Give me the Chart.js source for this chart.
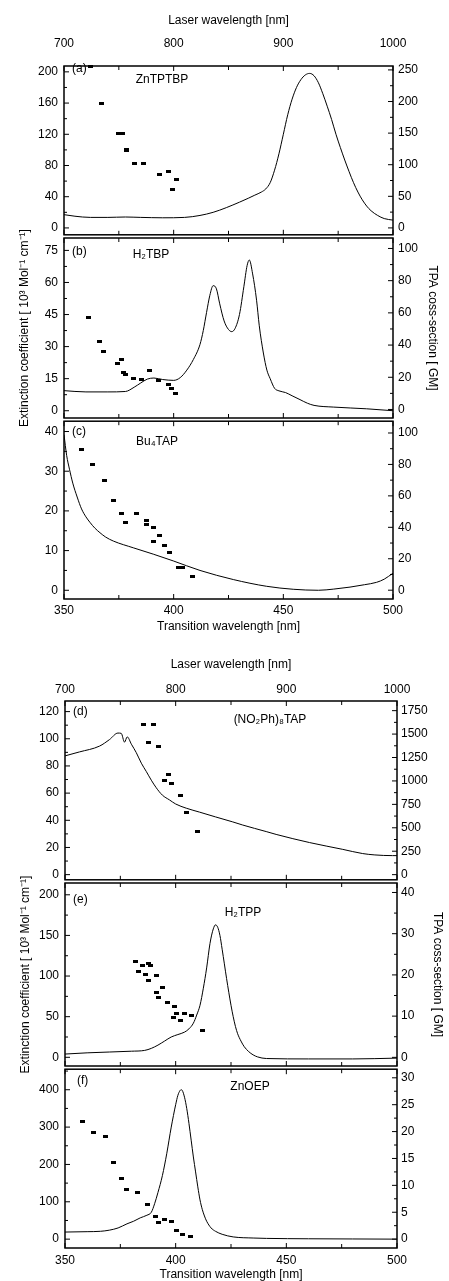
<!DOCTYPE html>
<html>
<head>
<meta charset="utf-8">
<script src="https://cdn.jsdelivr.net/npm/chart.js@4.4.1/dist/chart.umd.min.js"></script>
<style>
  html, body { margin: 0; padding: 0; background: #fff; }
  body { width: 449px; height: 1281px; position: relative; overflow: hidden; }
  canvas { position: absolute; left: 0; }
</style>
</head>
<body>
<canvas id="pa"></canvas>
<canvas id="pb"></canvas>
<canvas id="pc"></canvas>
<canvas id="pd"></canvas>
<canvas id="pe"></canvas>
<canvas id="pf"></canvas>
<script>
// shared axes
const xTicks = [350, 400, 450, 500];
const laserTicks = [700, 800, 900, 1000];

// (a) ZnTPTBP
const aLineNm  = [350, 355, 362, 370, 378, 385, 395, 405, 412, 418, 424, 430, 434, 437, 440, 442, 444, 446, 448, 450, 452, 454, 456, 458, 460, 462, 464, 466, 468, 470, 472, 474, 476, 478, 480, 482, 484, 486, 488, 490, 493, 496, 500];
const aLineExt = [17, 15, 13.5, 13.5, 14, 13.5, 13, 13.5, 16, 20, 26, 33, 38, 42, 46, 50, 58, 74, 95, 120, 145, 165, 180, 190, 196, 198, 195, 186, 172, 156, 139, 120, 103, 87, 72, 58, 46, 36, 28, 22, 16, 12, 10];
const aDotNm   = [362, 367.2, 374.8, 376.8, 378.3, 378.6, 382.2, 386.2, 393.5, 397.7, 399.4, 401.4];
const aDotGm   = [255, 197, 149, 149, 124, 122, 102, 102, 85, 90, 60, 77];
const aLeftTicks  = [0, 40, 80, 120, 160, 200];
const aRightTicks = [0, 50, 100, 150, 200, 250];

// (b) H2TBP
const bLineNm  = [350, 360, 370, 378, 382, 385, 388, 391, 395, 400, 403, 406, 409, 412, 413.5, 415, 416.5, 418, 419.5, 421, 423, 425, 426.5, 428, 430, 432, 433.5, 434.5, 436, 437.8, 439, 440.9, 442.5, 444, 446, 448, 451, 454, 457.6, 461, 464, 473, 488, 500];
const bLineExt = [9.4, 8.8, 8.8, 9, 11, 13, 14.8, 15.3, 14.6, 14.2, 15.5, 19, 24, 31, 37.5, 46, 54, 58.5, 57, 50, 42, 38, 37, 38.5, 45, 58, 68, 70.5, 64, 51.7, 40, 27, 19, 15, 10.5, 9.3, 8.5, 7, 5.2, 3.5, 2.5, 1.7, 0.9, 0];
const bDotNm   = [361.1, 366.4, 368.2, 374.3, 376, 377.3, 377.9, 381.6, 385.4, 389.1, 393.2, 397.5, 398.9, 400.9];
const bDotGm   = [57.3, 42.4, 35.8, 28.4, 31.2, 22.8, 22, 19.3, 18.4, 24, 17.8, 15.7, 13, 10.1];
const bLeftTicks  = [0, 15, 30, 45, 60, 75];
const bRightTicks = [0, 20, 40, 60, 80, 100];

// (c) Bu4TAP
const cLineNm  = [350, 351.2, 352.5, 354, 356, 358, 360, 362, 364, 366.4, 369, 372.5, 381.6, 390.7, 399.8, 412, 427.2, 442.4, 454.5, 466, 473, 480.4, 487, 492.5, 496, 500];
const cLineExt = [39.2, 34, 30.5, 27, 23.5, 20.5, 18.5, 17, 15.7, 14.5, 13.4, 12.4, 10.7, 9.1, 7.4, 5, 2.7, 1, 0.25, 0, 0.3, 0.8, 1.4, 2, 2.8, 4.3];
const cDotNm   = [357.8, 362.9, 368.4, 372.5, 376, 378.1, 383.1, 387.7, 387.7, 391, 391, 393.6, 395.6, 398.3, 402.4, 404.1, 408.7];
const cDotGm   = [89.4, 79.8, 70, 57, 49, 43.3, 49, 44.2, 42, 40, 31, 35, 28.7, 24.2, 14.2, 14.2, 8.75];
const cLeftTicks  = [0, 10, 20, 30, 40];
const cRightTicks = [0, 20, 40, 60, 80, 100];

// (d) (NO2Ph)8TAP
const dLineNm  = [350, 356.5, 365.6, 370.1, 373.9, 375.4, 376.9, 378.1, 380, 382.2, 384.5, 386.7, 389, 391.2, 394, 397.2, 400, 404.8, 410.8, 418, 425.8, 430.3, 440.9, 445.4, 460.5, 475.5, 484.5, 490, 498, 500];
const dLineExt = [87.4, 90.3, 94.6, 99.4, 104.2, 104, 97.5, 101.4, 96, 89.8, 82, 76, 69.5, 64, 58.5, 55, 52, 48.9, 46, 42.5, 38.8, 36.5, 31.7, 29.6, 23.6, 18.6, 15.5, 14.5, 14, 14];
const dDotNm   = [385.5, 387.9, 390, 392.4, 394.8, 396.9, 398.3, 402.2, 404.8, 409.9];
const dDotGm   = [1599, 1407, 1599, 1365, 1002, 1072, 974, 845, 667, 461];
const dLeftTicks  = [0, 20, 40, 60, 80, 100, 120];
const dRightTicks = [0, 250, 500, 750, 1000, 1250, 1500, 1750];

// (e) H2TPP
const eLineNm  = [350, 360, 370, 380, 386, 389, 392, 395, 398, 401, 404, 406, 408, 409.5, 411, 412.5, 414, 415.5, 417, 418, 419, 420, 421, 422, 423, 424, 425, 426, 427, 428, 429.5, 431, 433, 435, 437, 441, 460, 480, 500];
const eLineExt = [4, 5.5, 6.5, 7.5, 8.5, 11, 15, 20, 25, 28, 31, 35, 42, 52, 64, 85, 110, 140, 158, 163, 160, 150, 133, 115, 97, 80, 64, 50, 38, 29, 20, 13, 7, 3, 0.5, -1.5, -2, -2, -1];
const eDotNm   = [381.9, 383.1, 385.2, 386.2, 387.6, 387.9, 388.8, 391.5, 391.5, 392.1, 393.9, 396.4, 399.2, 399.3, 400.5, 402.3, 403.8, 407.2, 412.3];
const eDotGm   = [23.3, 20.8, 22.2, 20, 18.7, 22.8, 22.3, 19.9, 15.8, 14.6, 17, 13.4, 9.6, 12.4, 10.6, 8.9, 10.6, 10.2, 6.6];
const eLeftTicks  = [0, 50, 100, 150, 200];
const eRightTicks = [0, 10, 20, 30, 40];

// (f) ZnOEP
const fLineNm  = [350, 360, 366, 370, 374, 378, 381, 384, 387, 389, 390.5, 392, 394, 396, 398, 400, 401, 402, 402.5, 403, 404, 405, 406, 407, 408, 409, 410, 411, 412, 413, 414, 416, 418, 421, 426, 435, 441, 460, 480, 500];
const fLineExt = [19, 20, 21, 24, 30, 41, 48, 57, 64, 72, 95, 125, 170, 230, 300, 360, 385, 398, 400, 398, 380, 350, 310, 265, 220, 180, 140, 105, 80, 62, 48, 30, 21, 13, 6, 3, 2, 1, 0.5, 0];
const fDotNm   = [357.8, 362.7, 368.2, 372, 375.5, 377.9, 382.8, 387.3, 390.8, 392.4, 395.1, 398.2, 400.3, 402.9, 406.5];
const fDotGm   = [21.8, 19.9, 19, 14.3, 11.2, 9.3, 8.7, 6.5, 4.3, 3.05, 3.6, 3.35, 1.65, 0.8, 0.4];
const fLeftTicks  = [0, 100, 200, 300, 400];
const fRightTicks = [0, 5, 10, 15, 20, 25, 30];

const FONT = '"Liberation Sans", Arial, Helvetica, sans-serif';
Chart.defaults.font.family = FONT;
Chart.defaults.font.size = 12;
Chart.defaults.color = '#000';

const EXT_TITLE = 'Extinction coefficient [ 10\u00B3 Mol\u207B\u00B9 cm\u207B\u00B9]';
const TPA_TITLE = 'TPA coss-section [ GM]';

// small filled rectangle used as the data marker
const dot = document.createElement('canvas');
dot.width = 5; dot.height = 3;
const dctx = dot.getContext('2d');
dctx.fillStyle = '#000';
dctx.fillRect(0, 0, 5, 3);

// major ticks plus half-step minors, kept inside the scale range
function marks(ticks, scale) {
  const half = (ticks[1] - ticks[0]) / 2;
  const out = [];
  for (let k = -2; k <= (ticks.length - 1) * 2 + 2; k++) {
    const v = ticks[0] + k * half;
    if (v < scale.min - 1e-9 || v > scale.max + 1e-9) continue;
    out.push({ p: scale.getPixelForValue(v), major: k % 2 === 0 });
  }
  return out;
}

const panelDecor = {
  id: 'panelDecor',
  afterDraw(chart, args, o) {
    const { ctx, chartArea: a, scales } = chart;
    ctx.save();
    ctx.strokeStyle = '#000';
    ctx.lineWidth = 1;
    ctx.beginPath();
    marks(xTicks, scales.x).forEach(m => {
      const len = m.major ? 5 : 4;
      ctx.moveTo(m.p, a.bottom); ctx.lineTo(m.p, a.bottom - len);
      ctx.moveTo(m.p, a.top); ctx.lineTo(m.p, a.top + len);
    });
    marks(o.left, scales.yL).forEach(m => {
      const len = m.major ? 5 : 3;
      ctx.moveTo(a.left, m.p); ctx.lineTo(a.left + len, m.p);
    });
    marks(o.right, scales.yR).forEach(m => {
      const len = m.major ? 5 : 3;
      ctx.moveTo(a.right, m.p); ctx.lineTo(a.right - len, m.p);
    });
    ctx.stroke();
    ctx.lineWidth = 1.5;
    ctx.strokeRect(a.left, a.top, a.right - a.left, a.bottom - a.top);

    ctx.fillStyle = '#000';
    ctx.font = '12px ' + FONT;
    ctx.textBaseline = 'middle';
    ctx.textAlign = 'left';
    ctx.fillText(o.tag, o.tagX, o.tagY - o.top);
    ctx.textAlign = 'center';
    ctx.fillText(o.name, o.nameX, o.nameY - o.top);
    ctx.restore();
  }
};

const fixTicks = arr => s => { s.ticks = arr.map(v => ({ value: v })); };
const plain = v => String(v);

function panel(id, p) {
  const cv = document.getElementById(id);
  cv.width = 449;
  cv.height = p.height;
  cv.style.top = p.top + 'px';

  const line = p.lineNm.map((x, i) => ({ x: x, y: p.lineVal[i] }));
  const dots = p.dotNm.map((x, i) => ({ x: x, y: p.dotVal[i] }));

  const noGrid = { display: false, drawTicks: false };
  const scales = {
    x: {
      type: 'linear', position: 'bottom', min: 350, max: 500, bounds: 'data',
      display: !!p.bottom,
      afterBuildTicks: fixTicks(xTicks),
      afterFit: s => { s.height = p.bottom ? p.bottom.h : 0; },
      grid: noGrid, border: { display: false },
      ticks: { padding: p.bottom ? p.bottom.tickPad : 0, autoSkip: false, maxRotation: 0, callback: plain },
      title: { display: !!p.bottom, text: 'Transition wavelength [nm]', padding: { top: 0, bottom: p.bottom ? p.bottom.titlePad : 0 } }
    },
    yL: {
      type: 'linear', position: 'left', min: p.yL[0], max: p.yL[1], bounds: 'data',
      afterBuildTicks: fixTicks(p.leftTicks),
      afterFit: s => { s.width = p.lw; },
      grid: noGrid, border: { display: false },
      ticks: { padding: 6, autoSkip: false, callback: plain },
      title: { display: !!p.leftTitle, text: EXT_TITLE, padding: { top: p.leftTitle || 0, bottom: 0 } }
    },
    yR: {
      type: 'linear', position: 'right', min: p.yR[0], max: p.yR[1], bounds: 'data',
      afterBuildTicks: fixTicks(p.rightTicks),
      afterFit: s => { s.width = p.rw; },
      grid: noGrid, border: { display: false },
      ticks: { padding: p.rpad, autoSkip: false, callback: plain },
      title: { display: !!p.rightTitle, text: TPA_TITLE, padding: { top: p.rightTitle || 0, bottom: 0 } }
    }
  };
  if (p.topAxis) {
    scales.x2 = {
      type: 'linear', position: 'top', min: 700, max: 1000, bounds: 'data',
      afterBuildTicks: fixTicks(laserTicks),
      afterFit: s => { s.height = p.topAxis.h; },
      grid: noGrid, border: { display: false },
      ticks: { padding: p.topAxis.tickPad, autoSkip: false, maxRotation: 0, callback: plain },
      title: { display: true, text: 'Laser wavelength [nm]', padding: { top: p.topAxis.titlePad, bottom: 0 } }
    };
  }

  new Chart(cv, {
    type: 'line',
    data: {
      datasets: [
        {
          data: line, xAxisID: 'x', yAxisID: 'yL',
          borderColor: '#000', borderWidth: 1, pointRadius: 0, fill: false,
          cubicInterpolationMode: 'monotone'
        },
        {
          data: dots, xAxisID: 'x', yAxisID: 'yR', showLine: false, clip: false,
          pointStyle: dot, pointRadius: 3, backgroundColor: '#000', borderColor: '#000'
        }
      ]
    },
    options: {
      responsive: false,
      animation: false,
      events: [],
      layout: { padding: { top: p.padTop, bottom: p.padBottom, left: 0, right: 0 } },
      scales: scales,
      plugins: {
        legend: { display: false },
        tooltip: { enabled: false },
        panelDecor: {
          left: p.leftTicks, right: p.rightTicks, top: p.top,
          tag: p.tag, tagX: p.tagX, tagY: p.tagY,
          name: p.name, nameX: p.nameX, nameY: p.nameY
        }
      }
    },
    plugins: [panelDecor]
  });
}

// upper group
panel('pa', {
  top: 0, height: 248, padTop: 0, padBottom: 10, lw: 64, rw: 56, rpad: 5,
  topAxis: { h: 66, tickPad: 15, titlePad: 13 },
  lineNm: aLineNm, lineVal: aLineExt, dotNm: aDotNm, dotVal: aDotGm,
  yL: [-8.8, 207.5], yR: [-10.9, 256.2], leftTicks: aLeftTicks, rightTicks: aRightTicks,
  tag: '(a)', tagX: 72, tagY: 69, name: 'ZnTPTBP', nameX: 162, nameY: 80
});
panel('pb', {
  top: 198, height: 260, padTop: 40, padBottom: 40, lw: 64, rw: 56, rpad: 5,
  leftTitle: 17, rightTitle: 9,
  lineNm: bLineNm, lineVal: bLineExt, dotNm: bDotNm, dotVal: bDotGm,
  yL: [-3.4, 80.8], yR: [-5.3, 106.5], leftTicks: bLeftTicks, rightTicks: bRightTicks,
  tag: '(b)', tagX: 72, tagY: 252, name: 'H\u2082TBP', nameX: 151, nameY: 255
});
panel('pc', {
  top: 408, height: 232, padTop: 10, padBottom: 0, lw: 64, rw: 56, rpad: 5,
  bottom: { h: 41, tickPad: 4, titlePad: 6 },
  lineNm: cLineNm, lineVal: cLineExt, dotNm: cDotNm, dotVal: cDotGm,
  yL: [-2.2, 42.6], yR: [-5.6, 107.5], leftTicks: cLeftTicks, rightTicks: cRightTicks,
  tag: '(c)', tagX: 72, tagY: 432, name: 'Bu\u2084TAP', nameX: 157, nameY: 442
});

// lower group
panel('pd', {
  top: 641, height: 252, padTop: 0, padBottom: 10, lw: 65, rw: 52, rpad: 4,
  topAxis: { h: 60, tickPad: 4, titlePad: 16 },
  lineNm: dLineNm, lineVal: dLineExt, dotNm: dDotNm, dotVal: dDotGm,
  yL: [-3.8, 127.8], yR: [-55, 1853], leftTicks: dLeftTicks, rightTicks: dRightTicks,
  tag: '(d)', tagX: 73, tagY: 712, name: '(NO\u2082Ph)\u2088TAP', nameX: 270, nameY: 720
});
panel('pe', {
  top: 843, height: 263, padTop: 40, padBottom: 40, lw: 65, rw: 52, rpad: 4,
  leftTitle: 18, rightTitle: 4,
  lineNm: eLineNm, lineVal: eLineExt, dotNm: eDotNm, dotVal: eDotGm,
  yL: [-10.7, 214.5], yR: [-2.1, 42.3], leftTicks: eLeftTicks, rightTicks: eRightTicks,
  tag: '(e)', tagX: 73, tagY: 900, name: 'H\u2082TPP', nameX: 243, nameY: 913
});
panel('pf', {
  top: 1056, height: 225, padTop: 10, padBottom: 0, lw: 65, rw: 52, rpad: 4,
  bottom: { h: 33, tickPad: 5, titlePad: -1 },
  lineNm: fLineNm, lineVal: fLineExt, dotNm: fDotNm, dotVal: fDotGm,
  yL: [-23.7, 455], yR: [-1.65, 31.6], leftTicks: fLeftTicks, rightTicks: fRightTicks,
  tag: '(f)', tagX: 77, tagY: 1081, name: 'ZnOEP', nameX: 250, nameY: 1087
});
</script>
</body>
</html>
